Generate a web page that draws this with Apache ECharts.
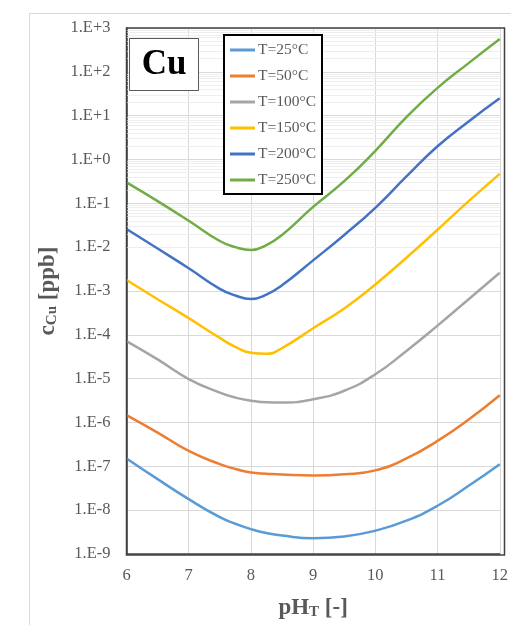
<!DOCTYPE html>
<html>
<head>
<meta charset="utf-8">
<script src="https://cdn.jsdelivr.net/npm/echarts@6/dist/echarts.min.js"></script>
<style>
  html, body { margin: 0; padding: 0; background: #fff; }
  #chart { width: 511px; height: 625px; }
</style>
</head>
<body>
<div id="chart"></div>
<script>
// ---- Data ----
var pH = [6, 6.5, 7, 7.5, 7.75, 8, 8.25, 8.5, 9, 9.5, 10, 10.5, 11, 11.5, 12];
var seriesNames = ['T=25°C', 'T=50°C', 'T=100°C', 'T=150°C', 'T=200°C', 'T=250°C'];
var c25  = [1.51e-7, 5.1e-8, 1.78e-8, 6.9e-9, 4.9e-9, 3.7e-9, 3.0e-9, 2.63e-9, 2.29e-9, 2.51e-9, 3.4e-9, 5.75e-9, 1.26e-8, 3.6e-8, 1.12e-7];
var c50  = [1.48e-6, 5.9e-7, 2.24e-7, 1.12e-7, 8.7e-8, 7.2e-8, 6.8e-8, 6.5e-8, 6.2e-8, 6.6e-8, 8.1e-8, 1.51e-7, 3.8e-7, 1.17e-6, 4.2e-6];
var c100 = [7.2e-5, 2.75e-5, 9.8e-6, 4.8e-6, 3.7e-6, 3.15e-6, 2.88e-6, 2.85e-6, 3.4e-6, 5.3e-6, 1.26e-5, 4.3e-5, 1.62e-4, 6.5e-4, 2.6e-3];
var c150 = [1.78e-3, 6.5e-4, 2.4e-4, 8.5e-5, 5.3e-5, 3.9e-5, 3.7e-5, 5.0e-5, 1.41e-4, 4.0e-4, 1.41e-3, 5.75e-3, 0.025, 0.112, 0.47];
var c200 = [0.026, 9.3e-3, 3.3e-3, 1.12e-3, 7.9e-4, 6.6e-4, 8.3e-4, 1.35e-3, 5.0e-3, 0.019, 0.079, 0.41, 2.0, 7.4, 25];
var c250 = [0.30, 0.112, 0.040, 0.0138, 0.0100, 8.6e-3, 0.0112, 0.019, 0.083, 0.32, 1.58, 9.3, 43, 158, 560];
var xTicks = [6, 7, 8, 9, 10, 11, 12];
var yMin = 1e-9, yMax = 1e3;

// ---- Styling ----
var colors = ['#5B9BD5', '#ED7D31', '#A5A5A5', '#FFC000', '#4472C4', '#70AD47'];
var serif = '"Liberation Serif", "Times New Roman", serif';
var G = { left: 126.5, right: 6.5, top: 28, bottom: 70 };
var W = 511, H = 625;

var allData = [c25, c50, c100, c150, c200, c250];

function pairs(arr) { return pH.map(function (x, i) { return [x, arr[i]]; }); }

// minor (log) gridlines: 2..9 within each decade
var minorLines = [];
for (var d = -9; d < 3; d++) {
  for (var k = 2; k <= 9; k++) minorLines.push({ yAxis: k * Math.pow(10, d) });
}

var series = allData.map(function (arr, i) {
  return {
    name: seriesNames[i],
    type: 'line',
    data: pairs(arr),
    smooth: 0.5,
    showSymbol: false,
    symbol: 'none',
    lineStyle: { color: colors[i], width: 2.5 },
    itemStyle: { color: colors[i] },
    z: 5
  };
});
series.unshift({
  name: '_minor',
  type: 'line',
  data: [],
  silent: true,
  z: 1,
  markLine: {
    silent: true,
    symbol: 'none',
    label: { show: false },
    animation: false,
    lineStyle: { color: '#eeeeee', width: 1, type: 'solid' },
    emphasis: { disabled: true },
    data: minorLines
  }
});

var richName = {
  a: { fontFamily: serif, fontSize: 23, fontWeight: 'bold', color: '#595959' },
  s: { fontFamily: serif, fontSize: 15, fontWeight: 'bold', color: '#595959', verticalAlign: 'bottom', padding: [9, 0, 0, 0] }
};

var chart = echarts.init(document.getElementById('chart'), null, { renderer: 'canvas' });
chart.setOption({
  animation: false,
  backgroundColor: '#fff',
  grid: { left: G.left, right: G.right, top: G.top, bottom: G.bottom, containLabel: false },
  legend: {
    data: seriesNames,
    orient: 'vertical',
    left: 224,
    top: 35,
    backgroundColor: '#fff',
    borderColor: '#000',
    borderWidth: 2,
    padding: [7, 6, 6, 6],
    itemGap: 10,
    itemWidth: 25,
    itemHeight: 3,
    icon: 'rect',
    textStyle: { fontFamily: serif, fontSize: 15.5, color: '#595959', lineHeight: 16, padding: [0, 0, 0, -2] },
    z: 10
  },
  xAxis: {
    type: 'value',
    min: 6, max: 12, interval: 1,
    axisLine: { show: true, lineStyle: { color: '#404040', width: 1.5 } },
    axisTick: { show: false },
    axisLabel: { color: '#595959', fontFamily: serif, fontSize: 16.5, margin: 13,
                 formatter: function (v) { return xTicks.indexOf(v) >= 0 ? String(v) : ''; } },
    splitLine: { show: true, lineStyle: { color: '#d9d9d9', width: 1 } },
    name: '{a|pH}{s|T}{a| [-]}',
    nameLocation: 'middle',
    nameGap: 42,
    nameTextStyle: { rich: richName }
  },
  yAxis: {
    type: 'log',
    logBase: 10,
    min: yMin, max: yMax,
    interval: 1,
    splitNumber: 12,
    axisLine: { show: true, lineStyle: { color: '#404040', width: 1.5 } },
    axisTick: { show: false },
    axisLabel: {
      color: '#595959', fontFamily: serif, fontSize: 16.5, margin: 16,
      formatter: function (v) {
        var e = Math.round(Math.log10(v));
        return '1.E' + (e >= 0 ? '+' : '-') + Math.abs(e);
      }
    },
    splitLine: { show: true, lineStyle: { color: '#d9d9d9', width: 1 } },
    name: '{a|c}{s|Cu}{a| [ppb]}',
    nameLocation: 'middle',
    nameGap: 60,
    nameRotate: 90,
    nameTextStyle: { rich: richName }
  },
  graphic: [
    { type: 'rect', left: 27, top: 11, shape: { width: W, height: H }, style: { fill: 'none', stroke: '#d9d9d9', lineWidth: 1 }, z: -1, silent: true },
    { type: 'rect', shape: { x: G.left, y: G.top, width: W - G.left - G.right, height: H - G.top - G.bottom },
      style: { fill: 'none', stroke: '#404040', lineWidth: 1.5 }, z: 20, silent: true },
    { type: 'rect', z: 20, silent: true, shape: { x: 129.5, y: 38.5, width: 69, height: 52 },
      style: { fill: '#fff', stroke: '#595959', lineWidth: 1 } },
    { type: 'text', z: 21, silent: true, x: 164, y: 65,
      style: { text: 'Cu', font: 'bold 35px "Liberation Serif", serif', fill: '#000', stroke: null, lineWidth: 0, align: 'center', verticalAlign: 'middle' } }
  ],
  series: series
});
</script>
</body>
</html>
